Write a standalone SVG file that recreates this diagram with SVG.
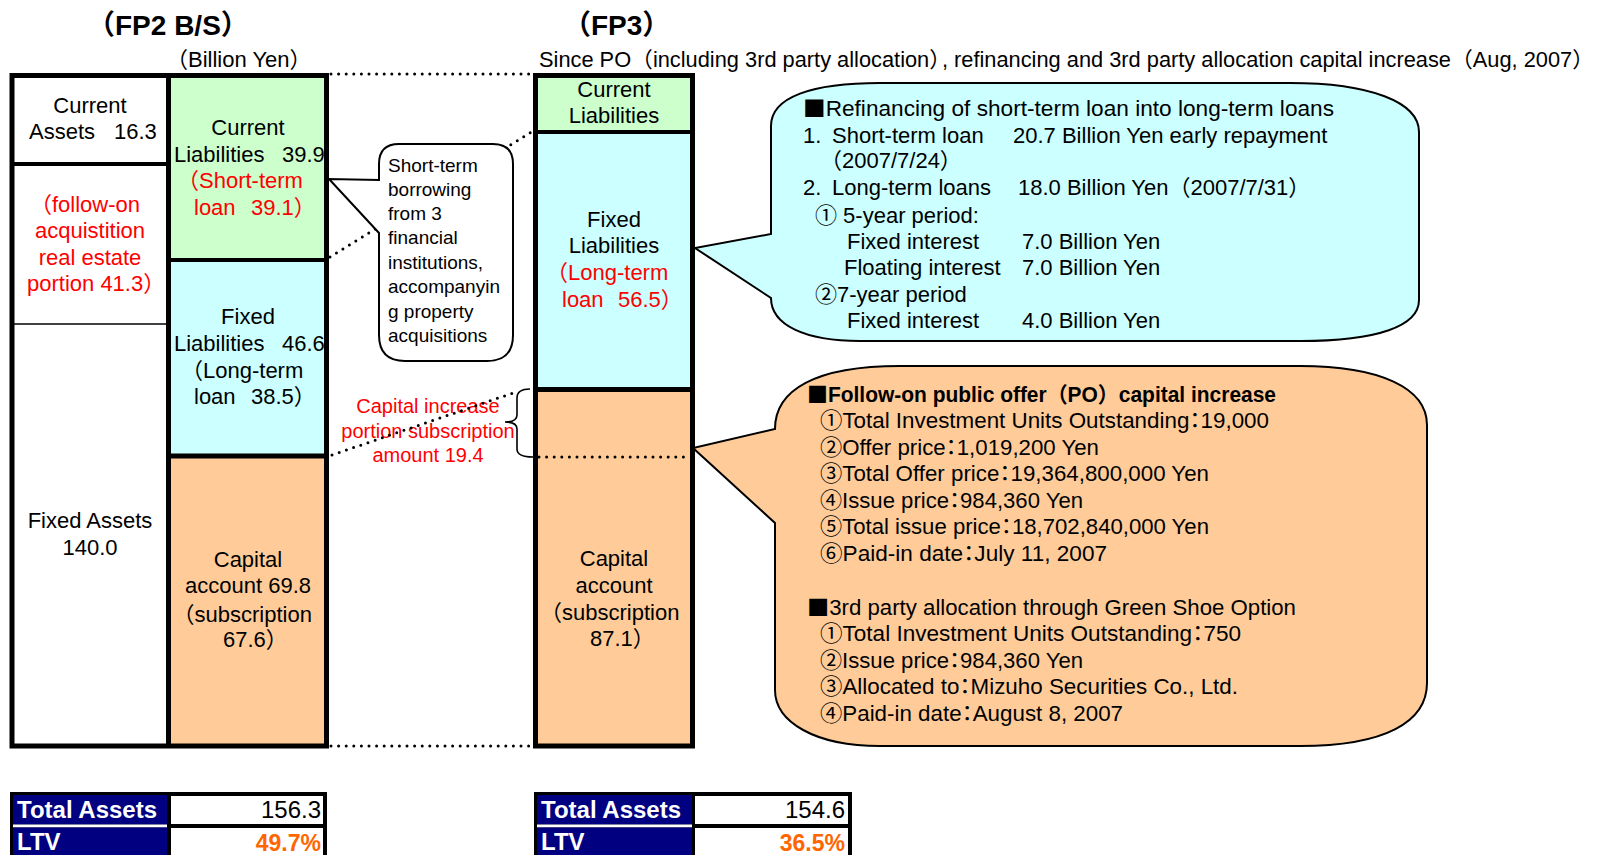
<svg xmlns="http://www.w3.org/2000/svg" width="1597" height="855" viewBox="0 0 1597 855">
<defs>
<style>
text{font-family:'Liberation Sans','Noto Sans CJK JP',sans-serif;font-size:22px;fill:#000}
.c{text-anchor:middle}
.r{fill:#FF0000}
.h{font-weight:bold;font-size:28px}
.cj{font-family:'Noto Sans CJK JP',sans-serif}
.sm{font-size:19px}
.rd{font-size:20px;fill:#FF0000;text-anchor:middle}
.o{font-size:21.5px}
.hc{font-feature-settings:'halt'}
.tb{font-weight:bold;font-size:24px;fill:#fff}
.tv{font-size:24px;text-anchor:end}
.ltv{font-weight:bold;font-size:23px;fill:#FF6600;text-anchor:end}
.frame{fill:none;stroke:#000;stroke-width:5}
.bar{stroke:#000;stroke-width:5}
.bar4{stroke:#000;stroke-width:4}
.thin{stroke:#000;stroke-width:1.5}
.dot{fill:none;stroke:#000;stroke-width:3;stroke-linecap:round;stroke-dasharray:0 7.6}
.callout{stroke:#000;stroke-width:2}
.green{fill:#CCFFCC}
.cyan{fill:#CCFFFF}
.orange{fill:#FFCC99}
.navy{fill:#000080}
</style>
</defs>
<rect width="1597" height="855" fill="#fff"/>

<g id="fp2-title">
<text class="h" x="87" y="35">（FP2 B/S）</text>
<text x="166" y="67">（Billion Yen）</text>
</g>
<g id="fp3-title">
<text class="h" x="563" y="35">（FP3）</text>
<text x="539" y="67" style="font-size:21.5px" textLength="1055" lengthAdjust="spacingAndGlyphs">Since PO（including 3rd party allocation）<tspan dx="-9">, refinancing and 3rd party allocation capital increase</tspan>（Aug, 2007）</text>
</g>

<g id="fp2-current-assets">
<rect x="12" y="75" width="156.5" height="89" fill="#fff"/>
<text class="c" x="90" y="113">Current</text>
<text x="29" y="139">Assets <tspan x="114">16.3</tspan></text>
</g>
<g id="fp2-followon-portion">
<rect x="12" y="164" width="156.5" height="160" fill="#fff"/>
<text class="r" x="30" y="212">（follow-on</text>
<text class="r c" x="90" y="238">acquistition</text>
<text class="r c" x="90" y="265">real estate</text>
<text class="r" x="27" y="291">portion 41.3）</text>
</g>
<g id="fp2-fixed-assets">
<rect x="12" y="324" width="156.5" height="422" fill="#fff"/>
<text class="c" x="90" y="528">Fixed Assets</text>
<text class="c" x="90" y="555">140.0</text>
</g>
<g id="fp2-current-liabilities">
<rect class="green" x="168.5" y="75" width="158" height="185"/>
<text class="c" x="248" y="135">Current</text>
<text x="174" y="162">Liabilities <tspan x="282">39.9</tspan></text>
<text class="r" x="177" y="188">（Short-term</text>
<text class="r" x="194" y="215">loan <tspan x="251">39.1）</tspan></text>
</g>
<g id="fp2-fixed-liabilities">
<rect class="cyan" x="168.5" y="260" width="158" height="196"/>
<text class="c" x="248" y="324">Fixed</text>
<text x="174" y="351">Liabilities <tspan x="282">46.6</tspan></text>
<text x="181" y="378">（Long-term</text>
<text x="194" y="404">loan <tspan x="251">38.5）</tspan></text>
</g>
<g id="fp2-capital">
<rect class="orange" x="168.5" y="456" width="158" height="290"/>
<text class="c" x="248" y="567">Capital</text>
<text class="c" x="248" y="593">account 69.8</text>
<text x="172.5" y="622">（subscription</text>
<text x="223" y="647">67.6）</text>
</g>
<g id="fp2-frame">
<rect class="frame" x="12" y="75.5" width="314.5" height="670.5"/>
<line class="bar" x1="168.5" y1="75" x2="168.5" y2="746"/>
<line class="bar4" x1="12" y1="164" x2="168.5" y2="164"/>
<line class="thin" x1="12" y1="324" x2="168.5" y2="324"/>
<line class="bar4" x1="168.5" y1="260" x2="326.5" y2="260"/>
<line class="bar" x1="168.5" y1="456" x2="326.5" y2="456"/>
</g>

<g id="fp3-current-liabilities">
<rect class="green" x="535.5" y="75" width="157" height="57"/>
<text class="c" x="614" y="97">Current</text>
<text class="c" x="614" y="123">Liabilities</text>
</g>
<g id="fp3-fixed-liabilities">
<rect class="cyan" x="535.5" y="132" width="157" height="257.5"/>
<text class="c" x="614" y="227">Fixed</text>
<text class="c" x="614" y="253">Liabilities</text>
<text class="r" x="546" y="280">（Long-term</text>
<text class="r" x="562" y="307">loan <tspan x="618">56.5）</tspan></text>
</g>
<g id="fp3-capital">
<rect class="orange" x="535.5" y="389.5" width="157" height="356.5"/>
<text class="c" x="614" y="566">Capital</text>
<text class="c" x="614" y="593">account</text>
<text x="540" y="620">（subscription</text>
<text x="590" y="646">87.1）</text>
</g>
<g id="fp3-frame">
<rect class="frame" x="535.5" y="75.5" width="157" height="670.5"/>
<line class="bar4" x1="535.5" y1="132" x2="692.5" y2="132"/>
<line class="bar" x1="535.5" y1="389.5" x2="692.5" y2="389.5"/>
</g>

<g id="capital-increase-label">
<text class="rd" x="428" y="413">Capital increase</text>
<text class="rd" x="428" y="438">portion subscription</text>
<text class="rd" x="428" y="462">amount 19.4</text>
</g>

<g id="connectors">
<line class="dot" x1="331" y1="74" x2="533" y2="74"/>
<line class="dot" x1="330" y1="257" x2="533" y2="131"/>
<line class="dot" x1="332" y1="455" x2="513" y2="393"/>
<line class="dot" x1="331" y1="746" x2="533" y2="746"/>
<line class="dot" x1="539" y1="457" x2="690" y2="457"/>
<path d="M530,389 C522,389 517,391 517,398 V415 C517,419 513,422 505,422 C513,422 517,425 517,429 V449 C517,454 522,457 533,457" fill="none" stroke="#000" stroke-width="1.6"/>
</g>

<g id="callout-short-term">
<path class="callout" fill="#fff" d="M399,144 H493 Q513,144 513,164 V335 Q513,361 487,361 H405 Q379,361 379,335 V233 L329,179 L379,180 V164 Q379,144 399,144 Z"/>
<text class="sm" x="388" y="172">Short-term</text>
<text class="sm" x="388" y="196">borrowing</text>
<text class="sm" x="388" y="220">from 3</text>
<text class="sm" x="388" y="244">financial</text>
<text class="sm" x="388" y="269">institutions,</text>
<text class="sm" x="388" y="293">accompanyin</text>
<text class="sm" x="388" y="318">g property</text>
<text class="sm" x="388" y="342">acquisitions</text>
</g>

<g id="callout-refinancing">
<path class="callout cyan" d="M771,234 V126 C771,97 812,83 880,83 H1290 C1370,83 1419,102 1419,132 V300 C1419,326 1378,341 1300,341 H860 C805,341 771,325 771,298 L695,248 Z"/>
<text x="803" y="116" textLength="531" lengthAdjust="spacingAndGlyphs"><tspan class="cj">■</tspan>Refinancing of short-term loan into long-term loans</text>
<text x="803" y="143">1.</text><text x="832" y="143">Short-term loan</text><text x="1013" y="143">20.7 Billion Yen early repayment</text>
<text x="820" y="168">（2007/7/24）</text>
<text x="803" y="195">2.</text><text x="832" y="195">Long-term loans</text><text x="1018" y="195">18.0 Billion Yen（2007/7/31）</text>
<text x="815" y="223">① 5-year period:</text>
<text x="847" y="249">Fixed interest</text><text x="1022" y="249">7.0 Billion Yen</text>
<text x="844" y="275">Floating interest</text><text x="1022" y="275">7.0 Billion Yen</text>
<text x="815" y="302">②7-year period</text>
<text x="847" y="328">Fixed interest</text><text x="1022" y="328">4.0 Billion Yen</text>
</g>

<g id="callout-capital-increase">
<path class="callout orange" d="M775,429 C775,390 815,366 900,366 H1300 C1380,366 1427,388 1427,425 V683 C1427,722 1385,746 1300,746 H880 C815,746 775,722 775,690 V523 L693,448 Z"/>
<text class="o" x="807" y="402" font-weight="bold" textLength="469" lengthAdjust="spacingAndGlyphs"><tspan class="cj">■</tspan>Follow-on public offer（PO）capital increase</text>
<text class="o hc" x="820" y="428" textLength="449" lengthAdjust="spacingAndGlyphs">①Total Investment Units Outstanding：19,000</text>
<text class="o hc" x="820" y="455" textLength="279" lengthAdjust="spacingAndGlyphs">②Offer price：1,019,200 Yen</text>
<text class="o hc" x="820" y="481" textLength="389" lengthAdjust="spacingAndGlyphs">③Total Offer price：19,364,800,000 Yen</text>
<text class="o hc" x="820" y="508" textLength="263" lengthAdjust="spacingAndGlyphs">④Issue price：984,360 Yen</text>
<text class="o hc" x="820" y="534" textLength="389" lengthAdjust="spacingAndGlyphs">⑤Total issue price：18,702,840,000 Yen</text>
<text class="o hc" x="820" y="561" textLength="287" lengthAdjust="spacingAndGlyphs">⑥Paid-in date：July 11, 2007</text>
<text class="o" x="807" y="615" textLength="489" lengthAdjust="spacingAndGlyphs"><tspan class="cj">■</tspan>3rd party allocation through Green Shoe Option</text>
<text class="o hc" x="820" y="641" textLength="421" lengthAdjust="spacingAndGlyphs">①Total Investment Units Outstanding：750</text>
<text class="o hc" x="820" y="668" textLength="263" lengthAdjust="spacingAndGlyphs">②Issue price：984,360 Yen</text>
<text class="o hc" x="820" y="694" textLength="418" lengthAdjust="spacingAndGlyphs">③Allocated to：Mizuho Securities Co., Ltd.</text>
<text class="o hc" x="820" y="721" textLength="303" lengthAdjust="spacingAndGlyphs">④Paid-in date：August 8, 2007</text>
</g>

<g id="fp2-table">
<rect x="10" y="792" width="317" height="66" fill="#000"/>
<rect class="navy" x="13" y="795" width="154" height="29.5"/>
<rect x="13" y="824.5" width="154" height="3" fill="#fff"/>
<rect class="navy" x="13" y="827.5" width="154" height="30"/>
<rect x="171" y="796" width="152" height="28" fill="#fff"/>
<rect x="171" y="828" width="152" height="30" fill="#fff"/>
<text class="tb" x="17" y="818">Total Assets</text>
<text class="tb" x="17" y="850">LTV</text>
<text class="tv" x="321" y="818">156.3</text>
<text class="ltv" x="321" y="851">49.7%</text>
</g>
<g id="fp3-table">
<rect x="534" y="792" width="318" height="66" fill="#000"/>
<rect class="navy" x="537" y="795" width="155" height="29.5"/>
<rect x="537" y="824.5" width="155" height="3" fill="#fff"/>
<rect class="navy" x="537" y="827.5" width="155" height="30"/>
<rect x="695" y="796" width="153" height="28" fill="#fff"/>
<rect x="695" y="828" width="153" height="30" fill="#fff"/>
<text class="tb" x="541" y="818">Total Assets</text>
<text class="tb" x="541" y="850">LTV</text>
<text class="tv" x="845" y="818">154.6</text>
<text class="ltv" x="845" y="851">36.5%</text>
</g>
</svg>
